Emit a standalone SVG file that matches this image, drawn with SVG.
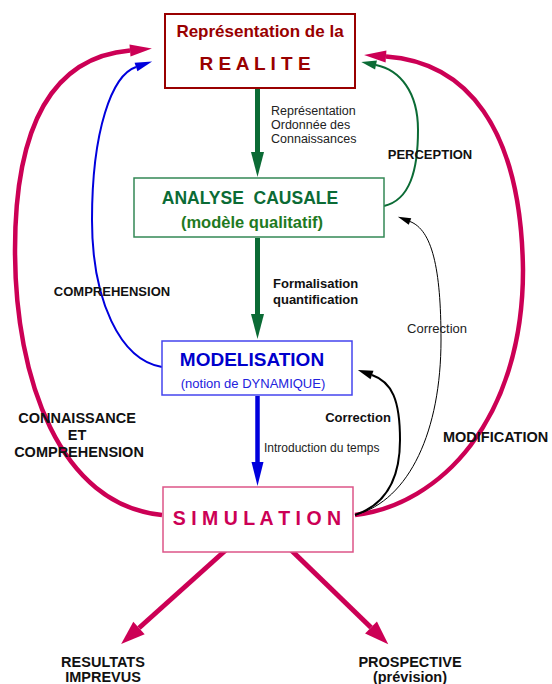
<svg xmlns="http://www.w3.org/2000/svg" width="552" height="684" viewBox="0 0 552 684">
<style>
text{font-family:"Liberation Sans",Arial,Helvetica,sans-serif;}
.b{font-weight:bold;}
.lbl{fill:#111;font-weight:bold;}
.sm{fill:#222;}
.mid{text-anchor:middle;}
.c-crim{fill:none;stroke:#cc0055;stroke-width:4.5;}
.c-crimb{fill:none;stroke:#cc0055;stroke-width:5;}
.c-blue{fill:none;stroke:#0000dd;stroke-width:2;}
.c-green{fill:none;stroke:#0b6b35;stroke-width:2;}
.c-bk1{fill:none;stroke:#000;stroke-width:1;}
.c-bk2{fill:none;stroke:#000;stroke-width:2;}
</style>
<defs>
<marker id="mCrim" markerUnits="userSpaceOnUse" orient="auto" refX="0" refY="0" markerWidth="30" markerHeight="30" overflow="visible"><path d="M0,-6 L22,0 L0,6 z" fill="#cc0055"/></marker>
<marker id="mCrimB" markerUnits="userSpaceOnUse" orient="auto" refX="0" refY="0" markerWidth="30" markerHeight="30" overflow="visible"><path d="M0,-8.5 L24,0 L0,8.5 z" fill="#cc0055"/></marker>
<marker id="mBlue" markerUnits="userSpaceOnUse" orient="auto" refX="0" refY="0" markerWidth="30" markerHeight="30" overflow="visible"><path d="M0,-4.5 L17,0 L0,4.5 z" fill="#0000dd"/></marker>
<marker id="mGreen" markerUnits="userSpaceOnUse" orient="auto" refX="0" refY="0" markerWidth="30" markerHeight="30" overflow="visible"><path d="M0,-4.5 L15,0 L0,4.5 z" fill="#0b6b35"/></marker>
<marker id="mBk1" markerUnits="userSpaceOnUse" orient="auto" refX="0" refY="0" markerWidth="30" markerHeight="30" overflow="visible"><path d="M0,-3.5 L13,0 L0,3.5 z" fill="#000"/></marker>
<marker id="mBk2" markerUnits="userSpaceOnUse" orient="auto" refX="0" refY="0" markerWidth="30" markerHeight="30" overflow="visible"><path d="M0,-4.5 L15,0 L0,4.5 z" fill="#000"/></marker>
<marker id="mGreenV" markerUnits="userSpaceOnUse" orient="auto" refX="0" refY="0" markerWidth="30" markerHeight="30" overflow="visible"><path d="M0,-6.5 L25,0 L0,6.5 z" fill="#0b6b35"/></marker>
<marker id="mBlueV" markerUnits="userSpaceOnUse" orient="auto" refX="0" refY="0" markerWidth="30" markerHeight="30" overflow="visible"><path d="M0,-6 L24,0 L0,6 z" fill="#0000dd"/></marker>
</defs>
<rect width="552" height="684" fill="#fff"/>

<g id="connectors">
  <path class="c-crim" d="M162,515 C 60,505 15,380 15,250 C 15,120 55,57 130,50.5" marker-end="url(#mCrim)"/>
  <path class="c-crim" d="M355,515 C 440,505 523,420 523,270 C 521,125 465,62 386,56.5" marker-end="url(#mCrim)"/>
  <path class="c-blue" d="M162,367 C 120,360 92,300 92,220 C 92,130 112,75 136,67" marker-end="url(#mBlue)"/>
  <path class="c-green" d="M384,206 C 410,200 418,170 418,130 C 418,92 400,70 376,65" marker-end="url(#mGreen)"/>
  <path class="c-bk1" d="M355,515 C 410,500 441,430 441,340 C 441,268 432,230 410,221.5" marker-end="url(#mBk1)"/>
  <path class="c-bk2" d="M355,515 C 385,505 400,480 400,440 C 400,400 392,382 372,375" marker-end="url(#mBk2)"/>
  <path fill="none" stroke="#0b6b35" stroke-width="5" d="M257.5,89 L257.5,152" marker-end="url(#mGreenV)"/>
  <path fill="none" stroke="#0b6b35" stroke-width="5" d="M257.5,238 L257.5,314" marker-end="url(#mGreenV)"/>
  <path fill="none" stroke="#0000dd" stroke-width="4.5" d="M257.5,396 L257.5,462" marker-end="url(#mBlueV)"/>
  <path class="c-crimb" d="M227,549 L139,628" marker-end="url(#mCrimB)"/>
  <path class="c-crimb" d="M290,549 L371,627.5" marker-end="url(#mCrimB)"/>

  <text class="sm" font-size="12.5" x="271" y="115">Représentation</text>
  <text class="sm" font-size="12.5" x="271" y="129">Ordonnée des</text>
  <text class="sm" font-size="12.5" x="271" y="143">Connaissances</text>
  <text class="lbl" font-size="13" x="273" y="288">Formalisation</text>
  <text class="lbl" font-size="13" x="273" y="304">quantification</text>
  <text class="sm" font-size="12" x="264" y="452">Introduction du temps</text>
  <text class="lbl mid" font-size="13" x="430" y="159">PERCEPTION</text>
  <text class="lbl mid" font-size="13" x="112" y="296">COMPREHENSION</text>
  <text class="sm mid" font-size="13" x="437" y="333">Correction</text>
  <text class="lbl mid" font-size="13" x="358" y="422">Correction</text>
  <text class="lbl" font-size="14.5" x="443" y="442">MODIFICATION</text>
  <text class="lbl mid" font-size="14.5" x="77" y="423">CONNAISSANCE</text>
  <text class="lbl mid" font-size="14.5" x="77" y="440">ET</text>
  <text class="lbl mid" font-size="14.5" x="79" y="457">COMPREHENSION</text>
</g>

<g id="realite">
  <rect x="165" y="14" width="190" height="74" fill="#fff" stroke="#990000" stroke-width="2"/>
  <text class="b mid" font-size="17" fill="#990000" x="260" y="37">Représentation de la</text>
  <text class="b mid" font-size="19" fill="#990000" x="255" y="70" xml:space="preserve">R E A L I T E</text>
</g>

<g id="analyse">
  <rect x="134" y="178" width="250" height="59" fill="#fff" stroke="#338855" stroke-width="1.5"/>
  <text class="b mid" font-size="17.5" fill="#0b6b35" x="250" y="204" xml:space="preserve">ANALYSE  CAUSALE</text>
  <text class="b mid" font-size="16.5" fill="#1f7a1f" x="252" y="228">(modèle qualitatif)</text>
</g>

<g id="modelisation">
  <rect x="162" y="341" width="190" height="54" fill="#fff" stroke="#4444ee" stroke-width="1.5"/>
  <text class="b mid" font-size="19" fill="#0000cc" x="252" y="366">MODELISATION</text>
  <text class="mid" font-size="13" fill="#2222dd" x="253" y="388">(notion de DYNAMIQUE)</text>
</g>

<g id="simulation">
  <rect x="163" y="487" width="190" height="65" fill="#fff" stroke="#dd5588" stroke-width="1.5"/>
  <text class="b mid" font-size="19.5" fill="#cc0055" x="257" y="525" xml:space="preserve">S I M U L A T I O N</text>
</g>

<g id="resultats">
  <text class="lbl mid" font-size="14.5" x="103" y="667">RESULTATS</text>
  <text class="lbl mid" font-size="14.5" x="103" y="682">IMPREVUS</text>
</g>

<g id="prospective">
  <text class="lbl mid" font-size="14.5" x="410" y="667">PROSPECTIVE</text>
  <text class="lbl mid" font-size="14.5" x="410" y="682">(prévision)</text>
</g>
</svg>
